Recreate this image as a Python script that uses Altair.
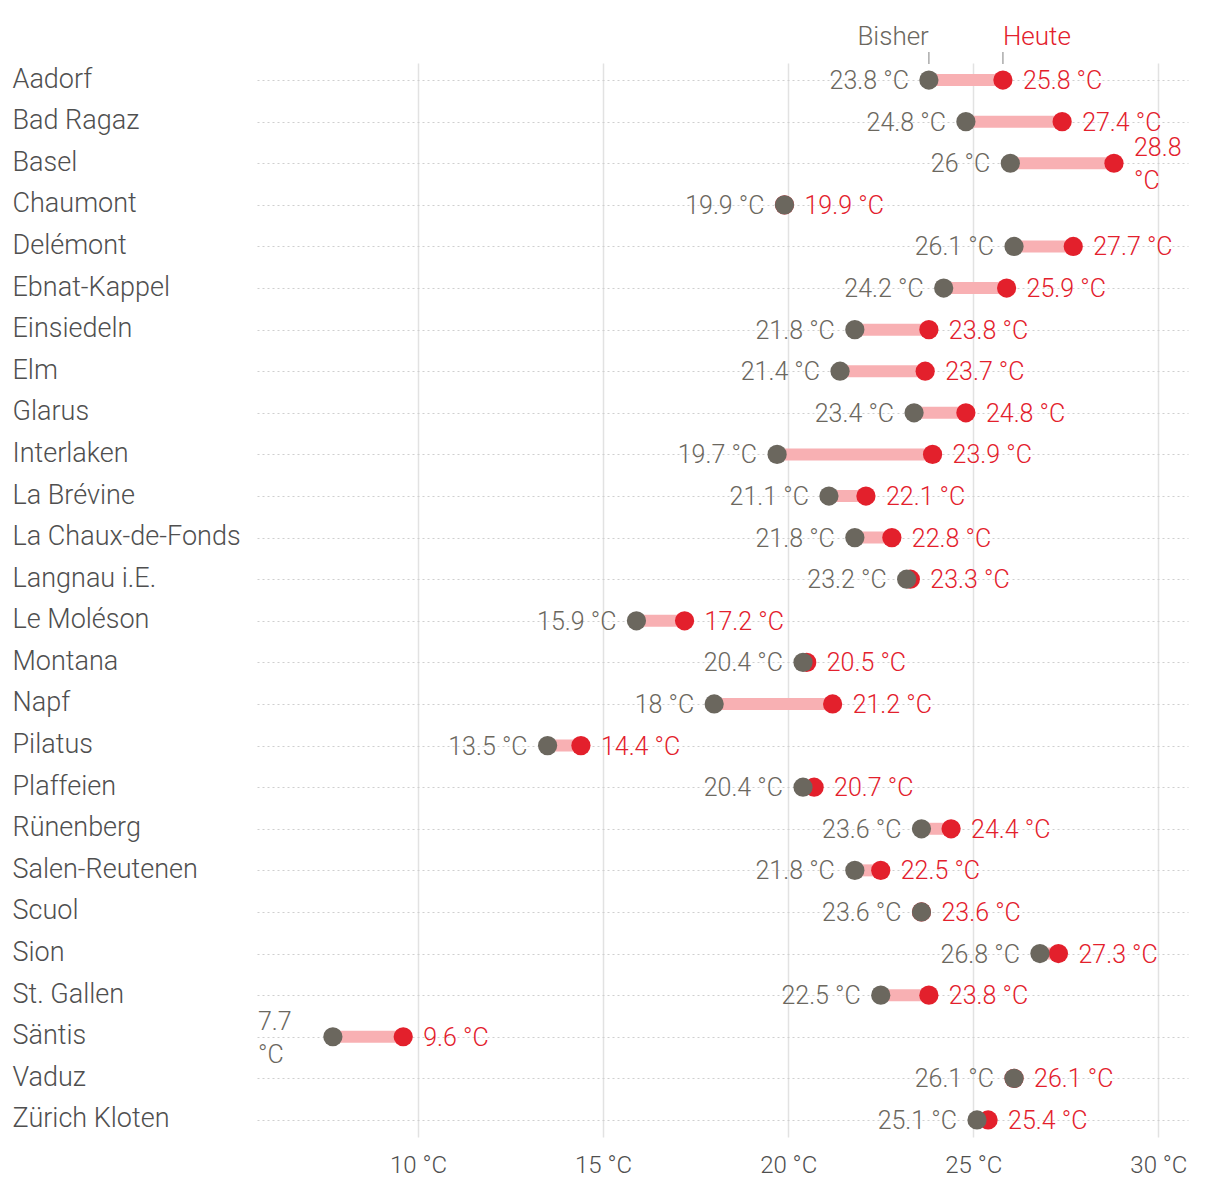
import altair as alt
import pandas as pd

stations = ["Aadorf", "Bad Ragaz", "Basel", "Chaumont", "Delémont", "Ebnat-Kappel",
            "Einsiedeln", "Elm", "Glarus", "Interlaken", "La Brévine", "La Chaux-de-Fonds",
            "Langnau i.E.", "Le Moléson", "Montana", "Napf", "Pilatus", "Plaffeien",
            "Rünenberg", "Salen-Reutenen", "Scuol", "Sion", "St. Gallen", "Säntis",
            "Vaduz", "Zürich Kloten"]
bisher = [23.8, 24.8, 26.0, 19.9, 26.1, 24.2, 21.8, 21.4, 23.4, 19.7, 21.1, 21.8,
          23.2, 15.9, 20.4, 18.0, 13.5, 20.4, 23.6, 21.8, 23.6, 26.8, 22.5, 7.7,
          26.1, 25.1]
heute = [25.8, 27.4, 28.8, 19.9, 27.7, 25.9, 23.8, 23.7, 24.8, 23.9, 22.1, 22.8,
         23.3, 17.2, 20.5, 21.2, 14.4, 20.7, 24.4, 22.5, 23.6, 27.3, 23.8, 9.6,
         26.1, 25.4]
bisher_text = ["23.8 °C", "24.8 °C", "26 °C", "19.9 °C", "26.1 °C", "24.2 °C", "21.8 °C",
               "21.4 °C", "23.4 °C", "19.7 °C", "21.1 °C", "21.8 °C", "23.2 °C", "15.9 °C",
               "20.4 °C", "18 °C", "13.5 °C", "20.4 °C", "23.6 °C", "21.8 °C", "23.6 °C",
               "26.8 °C", "22.5 °C", "7.7\n°C", "26.1 °C", "25.1 °C"]
heute_text = ["25.8 °C", "27.4 °C", "28.8\n°C", "19.9 °C", "27.7 °C", "25.9 °C", "23.8 °C",
              "23.7 °C", "24.8 °C", "23.9 °C", "22.1 °C", "22.8 °C", "23.3 °C", "17.2 °C",
              "20.5 °C", "21.2 °C", "14.4 °C", "20.7 °C", "24.4 °C", "22.5 °C", "23.6 °C",
              "27.3 °C", "23.8 °C", "9.6 °C", "26.1 °C", "25.4 °C"]
x_ticks = [10, 15, 20, 25, 30]
x_domain = [5.65, 30.8]
header_labels = ["Bisher", "Heute"]

GRAY = "#6b675e"
RED = "#e3202c"
PINK = "#f8b0b3"
TXT = "#4f4f4f"
FONT = "Roboto"
FW = 300
VFS = 25

df = pd.DataFrame({"station": stations, "bisher": bisher, "heute": heute,
                   "bisher_text": bisher_text, "heute_text": heute_text})
hdr = pd.DataFrame({"label": header_labels, "x": [bisher[0], heute[0]]})

xscale = alt.Scale(domain=x_domain, nice=False, zero=False)
ysort = alt.Y("station:N", sort=stations)
yenc = alt.Y("station:N", sort=stations,
             scale=alt.Scale(type="point", padding=0.41),
             axis=alt.Axis(title=None, domain=False, ticks=False, labelAlign="left",
                           labelPadding=245, labelFontSize=27, labelColor=TXT,
                           labelFont=FONT, labelFontWeight=FW, labelLimit=0,
                           labelOffset=-1,
                           grid=True, gridDash=[2, 3],
                           gridColor="#cfcfcf", gridWidth=1))
xaxis = alt.Axis(title=None, values=x_ticks, labelExpr="datum.value + ' °C'",
                 domain=False, ticks=False, labelPadding=16, labelFontSize=24,
                 labelColor=TXT, labelFont=FONT, labelFontWeight=FW, grid=True,
                 gridColor="#e2e2e2", gridWidth=1.5)

base = alt.Chart(df)
wrapped = "indexof(datum.{}, '\\n') >= 0"

bar = base.mark_rule(color=PINK, strokeWidth=12).encode(
    x=alt.X("bisher:Q", scale=xscale, axis=xaxis), x2="heute:Q", y=yenc)
red_dot = base.mark_circle(color=RED, opacity=1, size=370).encode(x="heute:Q", y=ysort)
gray_dot = base.mark_circle(color=GRAY, opacity=1, size=370).encode(x="bisher:Q", y=ysort)

txt = dict(baseline="middle", fontSize=VFS, font=FONT, fontWeight=FW,
           lineBreak="\n", lineHeight=33)
gray_lbl = base.transform_filter("!(" + wrapped.format("bisher_text") + ")").mark_text(
    align="right", dx=-20, dy=1, color=GRAY, **txt).encode(
    x="bisher:Q", y=ysort, text="bisher_text:N")
gray_lbl_wrap = base.transform_filter(wrapped.format("bisher_text")).mark_text(
    align="left", dx=1, dy=-15, color=GRAY, **txt).encode(
    x=alt.value(0), y=ysort, text="bisher_text:N")
red_lbl = base.transform_filter("!(" + wrapped.format("heute_text") + ")").mark_text(
    align="left", dx=20, dy=1, color=RED, **txt).encode(
    x="heute:Q", y=ysort, text="heute_text:N")
red_lbl_wrap = base.transform_filter(wrapped.format("heute_text")).mark_text(
    align="left", dx=20, dy=-15, color=RED, **txt).encode(
    x="heute:Q", y=ysort, text="heute_text:N")

hbase = alt.Chart(hdr)
h_ticks = hbase.mark_rule(color="#aaaaaa", strokeWidth=1.5).encode(
    x="x:Q", y=alt.value(-11), y2=alt.value(1))
h_bisher = hbase.transform_filter(alt.datum.label == "Bisher").mark_text(
    align="right", baseline="middle", fontSize=26, font=FONT, fontWeight=FW,
    color=GRAY).encode(x="x:Q", y=alt.value(-26), text="label:N")
h_heute = hbase.transform_filter(alt.datum.label == "Heute").mark_text(
    align="left", baseline="middle", fontSize=26, font=FONT, fontWeight=FW,
    color=RED).encode(x="x:Q", y=alt.value(-26), text="label:N")

chart = alt.layer(bar, red_dot, gray_dot, gray_lbl, gray_lbl_wrap, red_lbl, red_lbl_wrap,
                  h_ticks, h_bisher, h_heute).properties(
    width=931, height=1074,
    padding={"left": 12, "top": 24, "right": 32, "bottom": 12}
).configure(font=FONT).configure_view(stroke=None)

chart.save("out.html", embed_options={"renderer": "svg", "actions": False})
